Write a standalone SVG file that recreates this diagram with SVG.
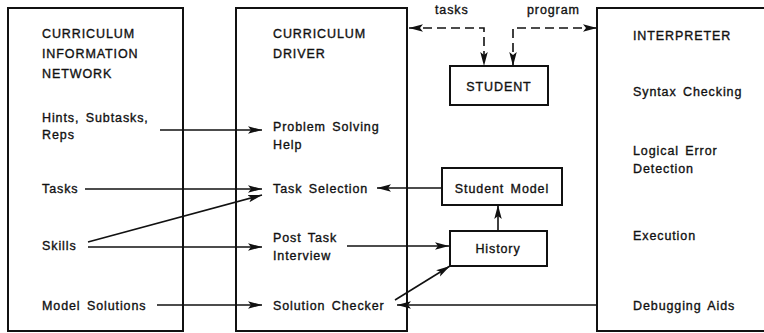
<svg xmlns="http://www.w3.org/2000/svg" width="764" height="333" viewBox="0 0 764 333">
<defs>
<marker id="ah" markerWidth="15" markerHeight="8" refX="14" refY="3.75" orient="auto-start-reverse" markerUnits="userSpaceOnUse">
<path d="M0,0 L14,3.75 L0,7.5 L3,3.75 z" fill="#111"/>
</marker>
<style>
.box{fill:none;stroke:#111;stroke-width:2}
.t{font-family:"Liberation Sans",Arial,sans-serif;font-size:12.5px;fill:#111;stroke:#111;stroke-width:0.35;letter-spacing:0.9px;word-spacing:2px}
.c{stroke:#111;stroke-width:1.6;fill:none;marker-end:url(#ah)}
.d{stroke:#111;stroke-width:1.6;fill:none;stroke-dasharray:9 5;marker-start:url(#ah);marker-end:url(#ah)}
</style>
</defs>
<rect width="764" height="333" fill="#fff"/>
<g id="network">
<rect class="box" x="8" y="8" width="175" height="323"/>
<text class="t" x="42" y="38">CURRICULUM</text>
<text class="t" x="42" y="58">INFORMATION</text>
<text class="t" x="42" y="78">NETWORK</text>
<text class="t" x="42" y="122">Hints, Subtasks,</text>
<text class="t" x="42" y="139">Reps</text>
<text class="t" x="42" y="193">Tasks</text>
<text class="t" x="42" y="250">Skills</text>
<text class="t" x="42" y="310">Model Solutions</text>
</g>
<g id="driver">
<rect class="box" x="236" y="8" width="171" height="323"/>
<text class="t" x="273" y="38">CURRICULUM</text>
<text class="t" x="273" y="58">DRIVER</text>
<text class="t" x="273" y="131">Problem Solving</text>
<text class="t" x="273" y="149">Help</text>
<text class="t" x="273" y="193">Task Selection</text>
<text class="t" x="273" y="242">Post Task</text>
<text class="t" x="273" y="260">Interview</text>
<text class="t" x="273" y="310">Solution Checker</text>
</g>
<g id="interpreter">
<path class="box" d="M764,8 H597 V331 H764"/>
<text class="t" x="633" y="40">INTERPRETER</text>
<text class="t" x="633" y="96">Syntax Checking</text>
<text class="t" x="633" y="155">Logical Error</text>
<text class="t" x="633" y="173">Detection</text>
<text class="t" x="633" y="240">Execution</text>
<text class="t" x="633" y="310">Debugging Aids</text>
</g>
<g id="student">
<rect class="box" x="450" y="66" width="98" height="39"/>
<text class="t" x="499" y="91" text-anchor="middle">STUDENT</text>
</g>
<g id="student-model">
<rect class="box" x="442" y="168" width="120" height="37"/>
<text class="t" x="502" y="193" text-anchor="middle">Student Model</text>
</g>
<g id="history">
<rect class="box" x="450" y="231" width="97" height="35"/>
<text class="t" x="498" y="253" text-anchor="middle">History</text>
</g>
<g id="connectors">
<path class="c" d="M160,130 H262"/>
<path class="c" d="M85,189 H262"/>
<path class="c" d="M88,242 L262,195"/>
<path class="c" d="M88,247 H262"/>
<path class="c" d="M157,305 H262"/>
<path class="c" d="M442,188 H377"/>
<path class="c" d="M347,246 H449"/>
<path class="c" d="M498,231 V205"/>
<path class="c" d="M395,300 L450,266"/>
<path class="c" d="M597,305 H397"/>
<path class="d" d="M409,28 H484 V66"/>
<path class="d" d="M513,66 V28 H597"/>
<text class="t" x="435" y="14">tasks</text>
<text class="t" x="527" y="14">program</text>
</g>
</svg>
